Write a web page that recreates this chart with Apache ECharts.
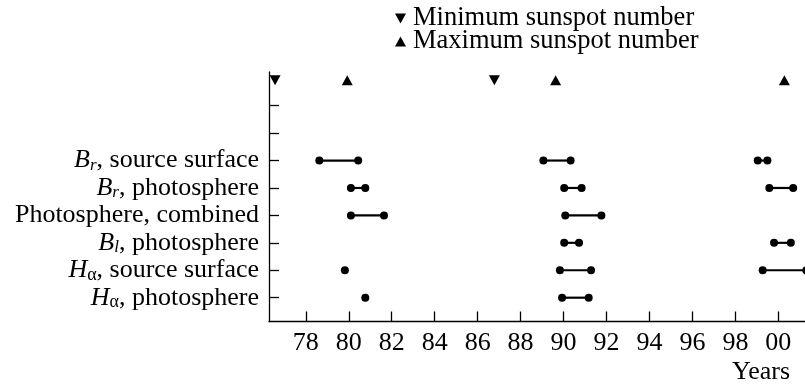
<!DOCTYPE html>
<html>
<head>
<meta charset="utf-8">
<script src="https://cdn.jsdelivr.net/npm/echarts@6/dist/echarts.min.js"></script>
<style>
html,body{margin:0;padding:0;background:#fff;}
#c{width:805px;height:386px;}
</style>
</head>
<body>
<div id="c"></div>
<script>
// ---- data ----
const xTicks = [78, 80, 82, 84, 86, 88, 90, 92, 94, 96, 98, 100];
const rowIndex = [1, 2, 3, 4, 5, 6];
const rowTickValues = [1, 2, 3, 4, 5, 6, 7, 8];
const rowSymbol = ['H', 'H', 'B', '', 'B', 'B'];
const rowSub = ['α', 'α', 'l', '', 'r', 'r'];
const rowText = [', photosphere', ', source surface', ', photosphere', 'Photosphere, combined', ', photosphere', ', source surface'];

const segHaPhoto = [[80.77], [89.93, 91.17]];
const segHaSource = [[79.82], [89.83, 91.28], [99.27, 101.3]];
const segBlPhoto = [[90.03, 90.72], [99.80, 100.58]];
const segCombined = [[80.10, 81.64], [90.08, 91.76]];
const segBrPhoto = [[80.10, 80.77], [90.03, 90.84], [99.58, 100.69]];
const segBrSource = [[78.63, 80.44], [89.06, 90.33], [99.04, 99.49]];
const rowSegments = [segHaPhoto, segHaSource, segBlPhoto, segCombined, segBrPhoto, segBrSource];

const markerRow = 8.93;
const minYears = [76.57, 86.78];
const maxYears = [79.93, 89.63, 100.28];

// ---- chart ----
const FONT = "'Liberation Serif', 'Times New Roman', serif";
const chart = echarts.init(document.getElementById('c'), null, {renderer: 'canvas'});

const series = [];
rowSegments.forEach((segs, r) => {
  segs.forEach(seg => {
    series.push({
      type: 'line',
      data: seg.map(x => [x, rowIndex[r]]),
      symbol: 'circle',
      symbolSize: 8,
      showSymbol: true,
      showAllSymbol: true,
      clip: false,
      silent: true,
      itemStyle: {color: '#000', opacity: 1},
      lineStyle: {color: '#000', width: 2.2},
      z: 3
    });
  });
});

const downTri = 'path://M0,0 L10,0 L5,9 Z';
const upTri = 'path://M5,0 L10,9 L0,9 Z';
series.push({
  name: 'Minimum sunspot number',
  type: 'scatter',
  data: minYears.map(x => [x, markerRow]),
  symbol: downTri,
  symbolSize: [11, 10],
  itemStyle: {color: '#000', opacity: 1},
  clip: false
});
series.push({
  name: 'Maximum sunspot number',
  type: 'scatter',
  data: maxYears.map(x => [x, markerRow]),
  symbol: upTri,
  symbolSize: [11, 10],
  itemStyle: {color: '#000', opacity: 1},
  clip: false
});

const labelMap = {};
rowIndex.forEach((v, i) => {
  if (rowSymbol[i]) {
    labelMap[v] = '{i|' + rowSymbol[i] + '}{' + (rowSub[i] === 'α' ? 'g' : 's') + '|' + rowSub[i] + '}{n|' + rowText[i] + '}';
  } else {
    labelMap[v] = '{n|' + rowText[i] + '}';
  }
});

chart.setOption({
  animation: false,
  backgroundColor: '#fff',
  textStyle: {fontFamily: FONT, color: '#000'},
  grid: {left: 269, right: 0, top: 72, bottom: 64.5, containLabel: false},
  legend: {
    data: [
      {name: 'Minimum sunspot number', icon: downTri, itemStyle: {color: '#000', opacity: 1}},
      {name: 'Maximum sunspot number', icon: upTri, itemStyle: {color: '#000', opacity: 1}}
    ],
    orient: 'vertical',
    left: 395,
    top: 5,
    padding: 0,
    itemWidth: 11,
    itemHeight: 10,
    itemGap: -4,
    selectedMode: false,
    textStyle: {fontFamily: FONT, fontSize: 26.5, color: '#000', lineHeight: 22, padding: [0, 0, 0, 2]}
  },
  xAxis: {
    type: 'value',
    min: 76.287,
    max: 101.24,
    axisLine: {show: true, onZero: false, lineStyle: {color: '#000', width: 1.3}},
    axisTick: {show: true, inside: true, length: 10, customValues: xTicks, lineStyle: {color: '#000', width: 1.3}},
    axisLabel: {
      customValues: xTicks,
      margin: 9,
      fontFamily: FONT, fontSize: 26, color: '#000',
      formatter: v => String(Math.round(v) % 100).padStart(2, '0')
    },
    splitLine: {show: false}
  },
  yAxis: {
    type: 'value',
    min: 0.132,
    max: 9.228,
    axisLine: {show: true, onZero: false, lineStyle: {color: '#000', width: 1.3}},
    axisTick: {show: true, inside: true, length: 10, customValues: rowTickValues, lineStyle: {color: '#000', width: 1.3}},
    axisLabel: {
      customValues: rowIndex,
      margin: 10,
      formatter: v => labelMap[Math.round(v)] || '',
      rich: {
        i: {fontFamily: FONT, fontSize: 26, fontStyle: 'italic', color: '#000'},
        s: {fontFamily: FONT, fontSize: 17, fontStyle: 'italic', color: '#000', padding: [10, 0, 0, 0]},
        g: {fontFamily: FONT, fontSize: 18, color: '#000', padding: [10, 0, 0, 0]},
        n: {fontFamily: FONT, fontSize: 26, color: '#000'}
      }
    },
    splitLine: {show: false}
  },
  graphic: [{
    type: 'text',
    right: 15,
    top: 359,
    style: {text: 'Years', font: '26px ' + FONT, fill: '#000'}
  }],
  series: series
});
</script>
</body>
</html>
